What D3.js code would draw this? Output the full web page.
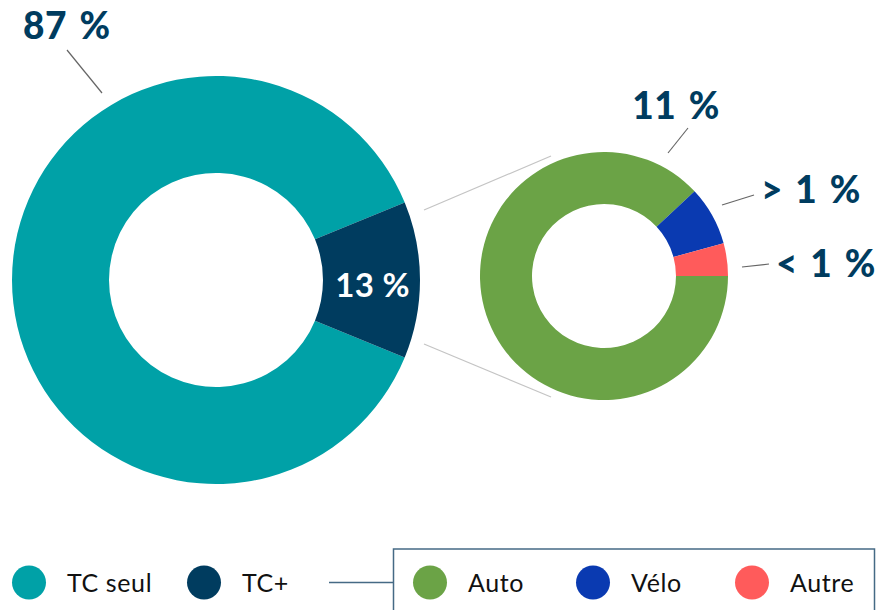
<!DOCTYPE html>
<html>
<head>
<meta charset="utf-8">
<script src="https://cdn.jsdelivr.net/npm/d3@7"></script>
<style>
  body { margin: 0; background: #fff; }
  text { font-family: Lato, "Open Sans", sans-serif; }
</style>
</head>
<body>
<script>
// Data
const mainCats = ["TC seul", "TC+"];
const mainValues = [87.6, 12.4];
const mainLabels = ["87 %", "13 %"];
const mainColors = ["#00a1a7", "#003c5f"];

const subCats = ["Auto", "Vélo", "Autre"];
const subValues = [11.4, 1.0, 0.55];
const subLabels = ["11 %", "> 1 %", "< 1 %"];
const subColors = ["#6ba346", "#0a3ab1", "#ff5b5b"];

const width = 880, height = 610;
const navy = "#003c5f";

const svg = d3.select("body").append("svg")
    .attr("width", width)
    .attr("height", height);

// Big donut: TC+ slice centred on the right side
const big = { cx: 216, cy: 280, r0: 107, r1: 204 };
const tcPlusShare = mainValues[1] / d3.sum(mainValues);
const bigStart = Math.PI / 2 + tcPlusShare * Math.PI;

const bigPie = d3.pie().sort(null)
    .startAngle(bigStart)
    .endAngle(bigStart + 2 * Math.PI);
const bigArc = d3.arc().innerRadius(big.r0).outerRadius(big.r1);
const bigArcs = bigPie(mainValues);

const gBig = svg.append("g").attr("transform", `translate(${big.cx},${big.cy})`);
gBig.selectAll("path")
    .data(bigArcs)
    .join("path")
    .attr("d", bigArc)
    .attr("fill", (d, i) => mainColors[i]);

// Small donut: slices start at 3 o'clock, clockwise
const small = { cx: 604, cy: 276, r0: 72, r1: 124 };
const smallPie = d3.pie().sort(null)
    .startAngle(Math.PI / 2)
    .endAngle(Math.PI / 2 + 2 * Math.PI);
const smallArc = d3.arc().innerRadius(small.r0).outerRadius(small.r1);
const smallArcs = smallPie(subValues);

const gSmall = svg.append("g").attr("transform", `translate(${small.cx},${small.cy})`);
gSmall.selectAll("path")
    .data(smallArcs)
    .join("path")
    .attr("d", smallArc)
    .attr("fill", (d, i) => subColors[i]);

// Connector lines from the TC+ slice to the small donut
[[424, 210, 551, 156], [424, 344, 551, 397]].forEach(l => {
    svg.append("line")
        .attr("x1", l[0]).attr("y1", l[1])
        .attr("x2", l[2]).attr("y2", l[3])
        .attr("stroke", "#c4c4c4")
        .attr("stroke-width", 1.2);
});

// 13 % inside the slice
const c13 = bigArc.centroid(bigArcs[1]);
gBig.append("text")
    .attr("x", c13[0] + 1)
    .attr("y", c13[1] + 17)
    .attr("text-anchor", "middle")
    .attr("fill", "#fff")
    .attr("font-size", 33)
    .attr("font-weight", 700)
    .attr("letter-spacing", 0.3)
    .text(mainLabels[1]);

// 87 % label with leader
const leader = (x1, y1, x2, y2) => svg.append("line")
    .attr("x1", x1).attr("y1", y1).attr("x2", x2).attr("y2", y2)
    .attr("stroke", "#666").attr("stroke-width", 1.2);

const bigLabel = (t, x, y, anchor) => svg.append("text")
    .attr("x", x).attr("y", y)
    .attr("text-anchor", anchor)
    .attr("fill", navy)
    .attr("font-size", 37)
    .attr("font-weight", 900)
    .attr("letter-spacing", 0.6)
    .attr("word-spacing", 3)
    .text(t);

leader(102, 93, 67, 50);
bigLabel(mainLabels[0], 23, 39, "start");

// Small donut labels
const subLabelPos = [
    { x: 720, y: 119, anchor: "end", l: [668, 153, 688, 128] },
    { x: 861, y: 203, anchor: "end", l: [722, 205, 754, 195] },
    { x: 876, y: 277, anchor: "end", l: [742, 267, 769, 264] }
];
subLabels.forEach((t, i) => {
    const p = subLabelPos[i];
    leader(...p.l);
    bigLabel(t, p.x, p.y, p.anchor);
});

// Legend
const legY = 582.5;
const legColor = "#456a85";
const leg1X = [29, 204];
mainCats.forEach((c, i) => {
    svg.append("circle").attr("cx", leg1X[i]).attr("cy", legY).attr("r", 17).attr("fill", mainColors[i]);
    svg.append("text").attr("x", leg1X[i] + 38).attr("y", legY + 9.5)
        .attr("font-size", 25).attr("letter-spacing", 0.6).attr("fill", "#111").text(c);
});

svg.append("line")
    .attr("x1", 329).attr("y1", legY).attr("x2", 393).attr("y2", legY)
    .attr("stroke", legColor).attr("stroke-width", 1.5);
svg.append("rect")
    .attr("x", 393.5).attr("y", 549)
    .attr("width", 481).attr("height", 80)
    .attr("fill", "none")
    .attr("stroke", legColor).attr("stroke-width", 1.5);

const leg2X = [430, 593, 752];
subCats.forEach((c, i) => {
    svg.append("circle").attr("cx", leg2X[i]).attr("cy", legY).attr("r", 17).attr("fill", subColors[i]);
    svg.append("text").attr("x", leg2X[i] + 38).attr("y", legY + 9.5)
        .attr("font-size", 25).attr("letter-spacing", 0.6).attr("fill", "#111").text(c);
});
</script>
</body>
</html>
